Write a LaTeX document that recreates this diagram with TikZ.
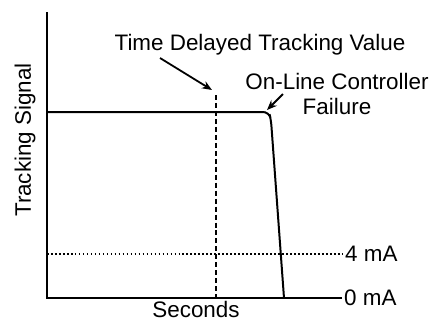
\documentclass[tikz,border=0pt]{standalone}
\usepackage{fontspec}
\setmainfont{Liberation Sans}
\usetikzlibrary{arrows.meta}
\begin{document}
\begin{tikzpicture}[x=1bp,y=-1bp,font=\fontsize{22.5}{25}\selectfont,
	axis/.style={line width=2.2pt},
	sig/.style={line width=2pt},
	pointer/.style={line width=1.8pt,-{Stealth[length=10pt,width=8pt]}}]
				\useasboundingbox (0,0) rectangle (432,321);
				% axes
				\coordinate (top) at (47,12);
				\coordinate (orig) at (47,298);
				\coordinate (xend) at (342,298);
				\draw[axis] (top) -- (orig) -- (xend);
				\node[anchor=west,inner sep=2pt] (zero) at (xend) {0 mA};
				\node[rotate=90] (ylab) at (25,140) {Tracking Signal};
				\node[anchor=base,inner sep=0pt] (xlab) at (196,317) {Seconds};
				% 4 mA level
				\coordinate (four) at (47,254);
				\node[anchor=west,inner sep=2pt] (fourlab) at (343,254) {4 mA};
				\draw[line width=1.8pt,dash pattern=on 1.6pt off 2.4pt] (four) -- (fourlab.west);
				% delayed value
				\coordinate (dtop) at (216,95);
				\coordinate (dbot) at (216,298);
				\draw[line width=1.8pt,dash pattern=on 5pt off 3pt] (dtop) -- (dbot);
				% tracking signal
				\coordinate (s0) at (47,112);
				\coordinate (fail) at (269,112);
				\coordinate (s1) at (284,298);
				\draw[sig,rounded corners=6pt] (s0) -- (fail) -- (271,120) -- (s1);
				% labels
				\node (tdtv) at (260,45) {Time Delayed Tracking Value};
				\node[align=center] (olcf) at (337,94) {On-Line Controller\\Failure};
				\coordinate (a1) at (160,58);
				\coordinate (a2) at (283,94);
				\draw[pointer] (a1) -- (212,90);
				\draw[pointer] (a2) -- (267,110);
			\end{tikzpicture}
\end{document}
